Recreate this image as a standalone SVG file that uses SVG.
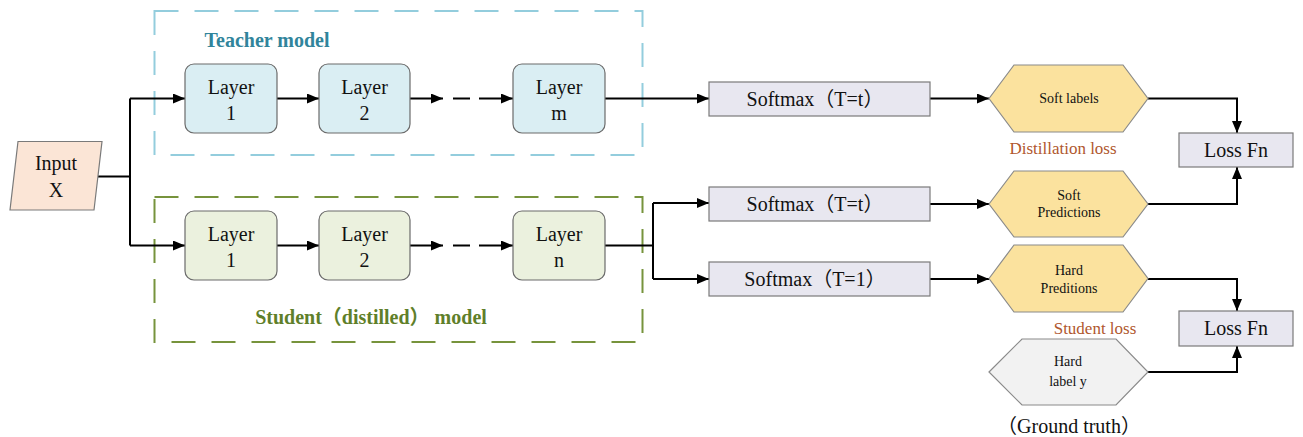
<svg xmlns="http://www.w3.org/2000/svg" width="1303" height="437" viewBox="0 0 1303 437">
  <defs>
    <marker id="arrow" markerUnits="userSpaceOnUse" markerWidth="13" markerHeight="10" refX="12" refY="5" orient="auto">
      <path d="M0,0 L12,5 L0,10 z" fill="#000"/>
    </marker>
    <style>
      text { font-family: "Liberation Serif", "Noto Sans CJK SC", serif; fill: #111; text-anchor: middle; }
      .layer-t { fill: #DAEEF3; stroke: #6b6b6b; stroke-width: 1.2; }
      .layer-s { fill: #EBF1DE; stroke: #6b6b6b; stroke-width: 1.2; }
      .box { fill: #E8E7F0; stroke: #7a7a7a; stroke-width: 1.2; }
      .hex-y { fill: #FBE29E; stroke: #8a8a8a; stroke-width: 1.2; }
      .hex-g { fill: #F2F2F2; stroke: #8a8a8a; stroke-width: 1.2; }
      .lbl { font-size: 20px; }
      .small { font-size: 14px; }
      .conn { fill: none; stroke: #000; stroke-width: 2; }
      .loss { font-size: 17px; fill: #B0572E; }
      .title { font-size: 20px; font-weight: bold; }
    </style>
  </defs>

  <!-- model containers -->
  <g id="teacher-group">
    <rect x="154.5" y="11" width="488" height="144" fill="none" stroke="#93CDDD" stroke-width="2" stroke-dasharray="24 16"/>
    <text class="title" x="267" y="47" style="fill:#31849B">Teacher model</text>
  </g>
  <g id="student-group">
    <rect x="154.5" y="197" width="488" height="145" fill="none" stroke="#77933C" stroke-width="2" stroke-dasharray="24 16"/>
    <text class="title" x="371" y="324" style="fill:#5F7F2A">Student（distilled） model</text>
  </g>

  <!-- connectors -->
  <g id="connectors">
    <path class="conn" d="M98,176.5 H130 M130,98.5 V245.5"/>
    <path class="conn" d="M130,98.5 H185" marker-end="url(#arrow)"/>
    <path class="conn" d="M130,245.5 H185" marker-end="url(#arrow)"/>
    <!-- teacher chain -->
    <path class="conn" d="M277,98.5 H319" marker-end="url(#arrow)"/>
    <path class="conn" d="M410,98.5 H443" marker-end="url(#arrow)"/>
    <path class="conn" d="M453,98.5 H470"/>
    <path class="conn" d="M479,98.5 H513" marker-end="url(#arrow)"/>
    <path class="conn" d="M605,98.5 H709" marker-end="url(#arrow)"/>
    <!-- student chain -->
    <path class="conn" d="M277,245.5 H319" marker-end="url(#arrow)"/>
    <path class="conn" d="M410,245.5 H443" marker-end="url(#arrow)"/>
    <path class="conn" d="M453,245.5 H470"/>
    <path class="conn" d="M479,245.5 H513" marker-end="url(#arrow)"/>
    <path class="conn" d="M605,245.5 H653 M653,203 V279"/>
    <path class="conn" d="M653,203 H709" marker-end="url(#arrow)"/>
    <path class="conn" d="M653,279 H709" marker-end="url(#arrow)"/>
    <!-- softmax outputs -->
    <path class="conn" d="M930,98.5 H989" marker-end="url(#arrow)"/>
    <path class="conn" d="M930,204 H989" marker-end="url(#arrow)"/>
    <path class="conn" d="M930,279 H989" marker-end="url(#arrow)"/>
    <!-- into loss functions -->
    <path class="conn" d="M1148,98.5 H1237 V133" marker-end="url(#arrow)"/>
    <path class="conn" d="M1148,204 H1237 V167" marker-end="url(#arrow)"/>
    <path class="conn" d="M1148,279 H1237 V311" marker-end="url(#arrow)"/>
    <path class="conn" d="M1148,372 H1237 V346" marker-end="url(#arrow)"/>
  </g>

  <!-- input -->
  <g id="input">
    <polygon points="18,141.5 102,141.5 94,210 10,210" fill="#FBE5D6" stroke="#7a7a7a" stroke-width="1.2"/>
    <text class="lbl" x="56" y="170">Input</text>
    <text class="lbl" x="56" y="197">X</text>
  </g>

  <!-- teacher layers -->
  <g id="t-layer1">
    <rect class="layer-t" x="185" y="64" width="92" height="69" rx="9"/>
    <text class="lbl" x="231" y="94">Layer</text>
    <text class="lbl" x="231" y="120">1</text>
  </g>
  <g id="t-layer2">
    <rect class="layer-t" x="319" y="64" width="91" height="69" rx="9"/>
    <text class="lbl" x="364.5" y="94">Layer</text>
    <text class="lbl" x="364.5" y="120">2</text>
  </g>
  <g id="t-layerm">
    <rect class="layer-t" x="513" y="64" width="92" height="69" rx="9"/>
    <text class="lbl" x="559" y="94">Layer</text>
    <text class="lbl" x="559" y="120">m</text>
  </g>

  <!-- student layers -->
  <g id="s-layer1">
    <rect class="layer-s" x="185" y="211" width="92" height="69" rx="9"/>
    <text class="lbl" x="231" y="241">Layer</text>
    <text class="lbl" x="231" y="267">1</text>
  </g>
  <g id="s-layer2">
    <rect class="layer-s" x="319" y="211" width="91" height="69" rx="9"/>
    <text class="lbl" x="364.5" y="241">Layer</text>
    <text class="lbl" x="364.5" y="267">2</text>
  </g>
  <g id="s-layern">
    <rect class="layer-s" x="513" y="211" width="92" height="69" rx="9"/>
    <text class="lbl" x="559" y="241">Layer</text>
    <text class="lbl" x="559" y="267">n</text>
  </g>

  <!-- softmax blocks -->
  <g id="softmax-teacher">
    <rect class="box" x="709" y="82" width="221" height="34"/>
    <text class="lbl" x="815" y="106">Softmax（T=t）</text>
  </g>
  <g id="softmax-student-soft">
    <rect class="box" x="709" y="187" width="221" height="34"/>
    <text class="lbl" x="815" y="211">Softmax（T=t）</text>
  </g>
  <g id="softmax-student-hard">
    <rect class="box" x="709" y="262" width="221" height="34"/>
    <text class="lbl" x="815" y="286">Softmax（T=1）</text>
  </g>

  <!-- label / prediction hexagons -->
  <g id="soft-labels">
    <polygon class="hex-y" points="989,98.5 1014,65 1123,65 1148,98.5 1123,132 1014,132"/>
    <text class="small" x="1069" y="103">Soft labels</text>
  </g>
  <g id="soft-predictions">
    <polygon class="hex-y" points="989,204 1014,171 1123,171 1148,204 1123,237 1014,237"/>
    <text class="small" x="1069" y="200">Soft</text>
    <text class="small" x="1069" y="217">Predictions</text>
  </g>
  <g id="hard-predictions">
    <polygon class="hex-y" points="989,278.5 1014,245 1123,245 1148,278.5 1123,312 1014,312"/>
    <text class="small" x="1069" y="275">Hard</text>
    <text class="small" x="1069" y="293">Preditions</text>
  </g>
  <g id="hard-label">
    <polygon class="hex-g" points="989,372 1022,339 1116,339 1148,372 1116,405 1022,405"/>
    <text class="small" x="1068" y="366">Hard</text>
    <text class="small" x="1068" y="386">label y</text>
    <text class="lbl" x="1069" y="433">（Ground truth）</text>
  </g>

  <!-- loss annotations -->
  <g id="distillation-loss">
    <text class="loss" x="1063" y="154">Distillation loss</text>
  </g>
  <g id="student-loss">
    <text class="loss" x="1095" y="334">Student loss</text>
  </g>

  <!-- loss functions -->
  <g id="loss-fn-1">
    <rect class="box" x="1179" y="133" width="114" height="34"/>
    <text x="1236" y="157" style="font-size:20px">Loss Fn</text>
  </g>
  <g id="loss-fn-2">
    <rect class="box" x="1179" y="311" width="114" height="35"/>
    <text x="1236" y="335" style="font-size:20px">Loss Fn</text>
  </g>
</svg>
